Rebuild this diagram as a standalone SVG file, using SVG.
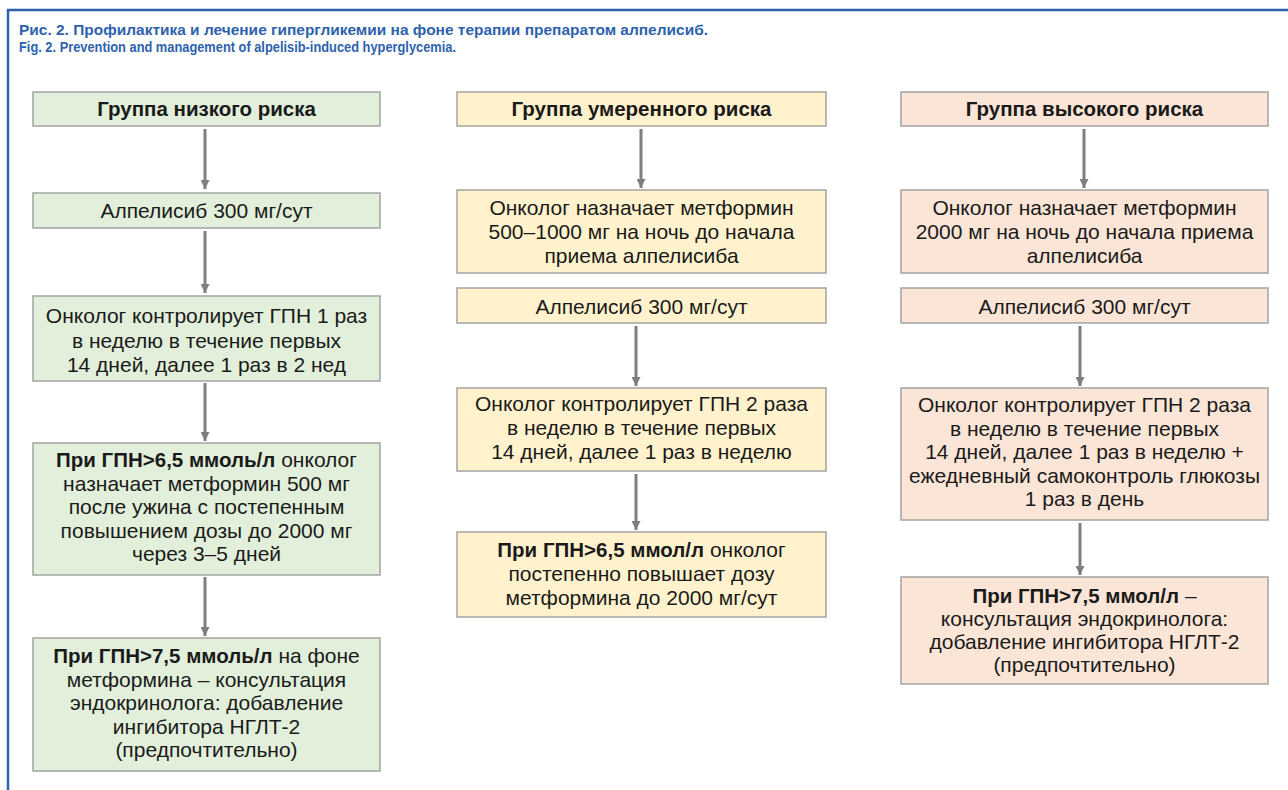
<svg xmlns="http://www.w3.org/2000/svg" width="1288" height="790" viewBox="0 0 1288 790">
<style>
.t{font-family:"Liberation Sans",Arial,sans-serif;font-size:21px;fill:#1a1a1a;text-anchor:middle}
.b{font-weight:bold;font-size:20.5px}
.ttl{font-family:"Liberation Sans",Arial,sans-serif;font-size:15px;font-weight:bold;fill:#2e62ad}
.g{fill:#e2efda;stroke:#a3a3a3;stroke-width:1.5}
.y{fill:#fff2cc;stroke:#a3a3a3;stroke-width:1.5}
.p{fill:#fbe5d6;stroke:#a3a3a3;stroke-width:1.5}
.c{stroke:#7f7f7f;stroke-width:3;fill:none;marker-end:url(#ah)}
</style>
<defs>
<marker id="ah" viewBox="0 0 10 10" refX="10" refY="5" markerWidth="10" markerHeight="9" markerUnits="userSpaceOnUse" orient="auto">
<path d="M0,0 L10,5 L0,10 z" fill="#7f7f7f"/>
</marker>
</defs>
<rect width="1288" height="790" fill="#ffffff"/>
<path d="M8,790 V10 H1288" fill="none" stroke="#2e62ad" stroke-width="2.5"/>
<g id="title">
<text class="ttl" x="19" y="35" textLength="689" lengthAdjust="spacingAndGlyphs">Рис. 2. Профилактика и лечение гипергликемии на фоне терапии препаратом алпелисиб.</text>
<text class="ttl" x="19" y="52" textLength="437" lengthAdjust="spacingAndGlyphs">Fig. 2. Prevention and management of alpelisib-induced hyperglycemia.</text>
</g>
<g id="connectors">
<line class="c" x1="205" y1="129" x2="205" y2="189"/>
<line class="c" x1="205" y1="231" x2="205" y2="293"/>
<line class="c" x1="205" y1="383" x2="205" y2="441"/>
<line class="c" x1="205" y1="577" x2="205" y2="636"/>
<line class="c" x1="641" y1="129" x2="641" y2="188"/>
<line class="c" x1="636" y1="326" x2="636" y2="386"/>
<line class="c" x1="636" y1="474" x2="636" y2="530"/>
<line class="c" x1="1084" y1="129" x2="1084" y2="188"/>
<line class="c" x1="1080" y1="326" x2="1080" y2="386"/>
<line class="c" x1="1080" y1="523" x2="1080" y2="575"/>
</g>
<g id="low1"><rect class="g" x="33" y="92" width="347" height="34"/><text class="t b" x="206.5" y="116">Группа низкого риска</text></g>
<g id="low2"><rect class="g" x="33" y="193" width="347" height="35"/><text class="t" x="206.5" y="218">Алпелисиб 300 мг/сут</text></g>
<g id="low3"><rect class="g" x="33" y="296" width="347" height="85"/>
<text class="t" x="206.5" y="323">Онколог контролирует ГПН 1 раз</text>
<text class="t" x="206.5" y="347.5">в неделю в течение первых</text>
<text class="t" x="206.5" y="372">14 дней, далее 1 раз в 2 нед</text></g>
<g id="low4"><rect class="g" x="33" y="443" width="347" height="132"/>
<text class="t" x="206.5" y="467"><tspan class="b">При ГПН&gt;6,5 ммоль/л</tspan> онколог</text>
<text class="t" x="206.5" y="490.5">назначает метформин 500 мг</text>
<text class="t" x="206.5" y="514">после ужина с постепенным</text>
<text class="t" x="206.5" y="537.5">повышением дозы до 2000 мг</text>
<text class="t" x="206.5" y="561">через 3–5 дней</text></g>
<g id="low5"><rect class="g" x="33" y="638" width="347" height="133"/>
<text class="t" x="206.5" y="663"><tspan class="b">При ГПН&gt;7,5 ммоль/л</tspan> на фоне</text>
<text class="t" x="206.5" y="686.5">метформина – консультация</text>
<text class="t" x="206.5" y="710">эндокринолога: добавление</text>
<text class="t" x="206.5" y="733.5">ингибитора НГЛТ-2</text>
<text class="t" x="206.5" y="757">(предпочтительно)</text></g>
<g id="mid1"><rect class="y" x="457" y="92" width="369" height="34"/><text class="t b" x="641.5" y="116">Группа умеренного риска</text></g>
<g id="mid2"><rect class="y" x="457" y="190" width="369" height="83"/>
<text class="t" x="641.5" y="215">Онколог назначает метформин</text>
<text class="t" x="641.5" y="239">500–1000 мг на ночь до начала</text>
<text class="t" x="641.5" y="263">приема алпелисиба</text></g>
<g id="mid3"><rect class="y" x="457" y="288" width="369" height="35"/><text class="t" x="641.5" y="314">Алпелисиб 300 мг/сут</text></g>
<g id="mid4"><rect class="y" x="457" y="388" width="369" height="83"/>
<text class="t" x="641.5" y="411">Онколог контролирует ГПН 2 раза</text>
<text class="t" x="641.5" y="435">в неделю в течение первых</text>
<text class="t" x="641.5" y="459">14 дней, далее 1 раз в неделю</text></g>
<g id="mid5"><rect class="y" x="457" y="532" width="369" height="85"/>
<text class="t" x="641.5" y="557"><tspan class="b">При ГПН&gt;6,5 ммол/л</tspan> онколог</text>
<text class="t" x="641.5" y="581">постепенно повышает дозу</text>
<text class="t" x="641.5" y="605">метформина до 2000 мг/сут</text></g>
<g id="high1"><rect class="p" x="901" y="92" width="367" height="34"/><text class="t b" x="1084.5" y="116">Группа высокого риска</text></g>
<g id="high2"><rect class="p" x="901" y="190" width="367" height="83"/>
<text class="t" x="1084.5" y="215">Онколог назначает метформин</text>
<text class="t" x="1084.5" y="239">2000 мг на ночь до начала приема</text>
<text class="t" x="1084.5" y="263">алпелисиба</text></g>
<g id="high3"><rect class="p" x="901" y="288" width="367" height="35"/><text class="t" x="1084.5" y="314">Алпелисиб 300 мг/сут</text></g>
<g id="high4"><rect class="p" x="901" y="388" width="367" height="132"/>
<text class="t" x="1084.5" y="412">Онколог контролирует ГПН 2 раза</text>
<text class="t" x="1084.5" y="435.5">в неделю в течение первых</text>
<text class="t" x="1084.5" y="459">14 дней, далее 1 раз в неделю +</text>
<text class="t" x="1084.5" y="482.5">ежедневный самоконтроль глюкозы</text>
<text class="t" x="1084.5" y="506">1 раз в день</text></g>
<g id="high5"><rect class="p" x="901" y="577" width="367" height="107"/>
<text class="t" x="1084.5" y="603"><tspan class="b">При ГПН&gt;7,5 ммол/л</tspan> –</text>
<text class="t" x="1084.5" y="626">консультация эндокринолога:</text>
<text class="t" x="1084.5" y="649">добавление ингибитора НГЛТ-2</text>
<text class="t" x="1084.5" y="672">(предпочтительно)</text></g>
</svg>
